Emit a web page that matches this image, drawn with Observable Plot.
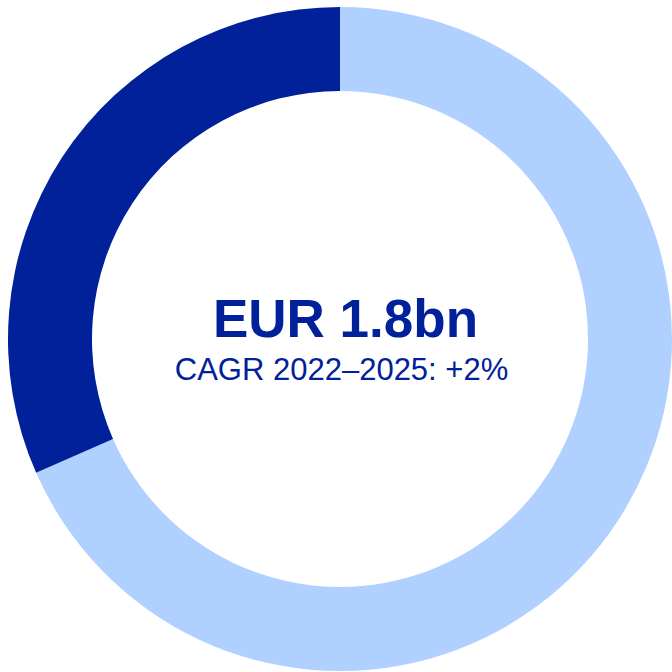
<!DOCTYPE html>
<html>
<head>
<meta charset="utf-8">
<script src="https://cdn.jsdelivr.net/npm/d3@7"></script>
<script src="https://cdn.jsdelivr.net/npm/@observablehq/plot@0.6"></script>
<style>
  html, body { margin: 0; padding: 0; background: #ffffff; }
  #chart { width: 672px; height: 672px; }
</style>
</head>
<body>
<div id="chart"></div>
<script>
// Data (order: clockwise from 12 o'clock)
const categories = ["Other", "Segment"];
const shares = [68.4, 31.6];
const colors = ["#b0d1ff", "#00219a"];
const titleText = "EUR 1.8bn";
const subtitleText = "CAGR 2022–2025: +2%";

const slices = categories.map((c, i) => ({category: c, share: shares[i]}));

function donut(index, scales, values, dimensions, context) {
  const cx = scales.x(0), cy = scales.y(0);
  const rOuter = scales.x(332) - scales.x(0);
  const rInner = scales.x(248) - scales.x(0);
  const arcs = d3.pie().sort(null).value(d => d.share)(slices);
  const arc = d3.arc().innerRadius(rInner).outerRadius(rOuter);
  const g = d3.create("svg:g").attr("transform", `translate(${cx},${cy})`);
  g.selectAll("path").data(arcs).join("path")
    .attr("d", arc)
    .attr("fill", d => scales.color(d.data.category));
  return g.node();
}

const chart = Plot.plot({
  width: 672,
  height: 672,
  margin: 0,
  x: {domain: [-340, 332], axis: null},
  y: {domain: [333, -339], axis: null},
  color: {domain: categories, range: colors},
  style: {background: "#ffffff"},
  marks: [
    donut,
    Plot.text([titleText], {
      x: 0, y: 0, dx: 5, dy: -19, text: d => d,
      fontSize: 53, fontWeight: "bold",
      fontFamily: "Liberation Sans, Arial, sans-serif",
      fill: colors[1]
    }),
    Plot.text([subtitleText], {
      x: 0, y: 0, dx: 1, dy: 31, text: d => d,
      fontSize: 31,
      fontFamily: "Liberation Sans, Arial, sans-serif",
      fill: colors[1]
    })
  ]
});
document.getElementById("chart").append(chart);
</script>
</body>
</html>
